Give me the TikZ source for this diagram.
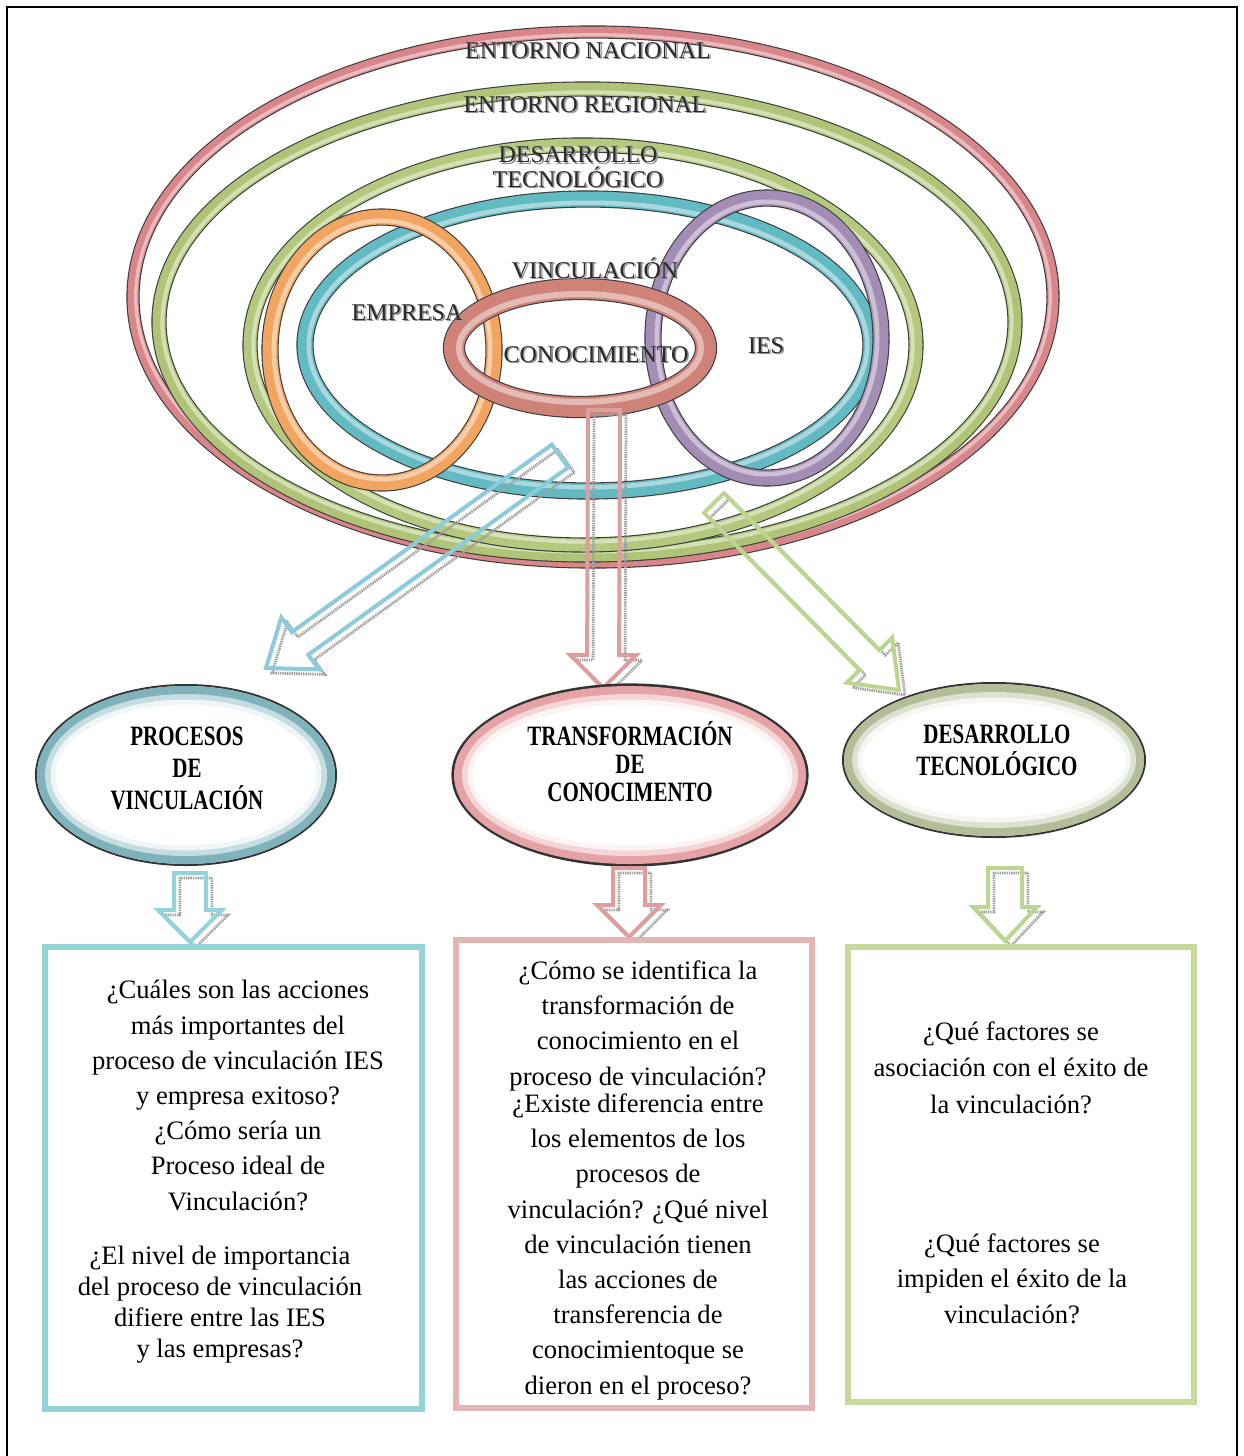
\documentclass[tikz,border=0pt]{standalone}
\usepackage{fontspec}
\usepackage{graphicx}
\setmainfont{Liberation Serif}
\usetikzlibrary{calc}

\definecolor{cNac}{HTML}{D9868B}
\definecolor{cReg}{HTML}{AFC476}
\definecolor{cDes}{HTML}{B4C97E}
\definecolor{cVin}{HTML}{62BAC3}
\definecolor{cEmp}{HTML}{F2A560}
\definecolor{cIes}{HTML}{A48DB5}
\definecolor{cCon}{HTML}{CF8278}
\definecolor{ringedge}{HTML}{3A3A3A}
\definecolor{embtext}{HTML}{2A2A2A}
\definecolor{embshadow}{HTML}{8F8F8F}
\definecolor{arrBlue}{HTML}{8CCBDC}
\definecolor{arrRed}{HTML}{DE9EA0}
\definecolor{arrGreen}{HTML}{BCD692}
\definecolor{ovBlue}{HTML}{7FB2BA}
\definecolor{ovRed}{HTML}{E6A3A6}
\definecolor{ovGreen}{HTML}{B3BD98}
\definecolor{boxBlue}{HTML}{93D4D9}
\definecolor{boxRed}{HTML}{E3B5B5}
\definecolor{boxGreen}{HTML}{C5D99B}

% embossed caption: dark letters over a grey drop shadow
\newcommand\emb[1]{\leavevmode\rlap{\kern0.8pt\raisebox{-0.8pt}{\textcolor{embshadow}{#1}}}\textcolor{embtext}{#1}}
% condensed bold caption line
\newcommand\sq[1]{\scalebox{0.75}[1]{#1}}

% tube-like ring: centre x, centre y, x radius, y radius, band (pt), colour
\newcommand\ring[6]{%
  \draw[line width=#5pt+1.1pt, ringedge] (#1,#2) ellipse [x radius=#3, y radius=#4];
  \draw[line width=#5pt, #6] (#1,#2) ellipse [x radius=#3, y radius=#4];
  \draw[line width=0.3*#5pt, #6!55!white] (#1,#2) ellipse [x radius={#3-0.5*#5}, y radius={#4-0.5*#5}];
}

% shaded oval: centre x, centre y, x radius, y radius, colour, edge width
\newcommand\shadedoval[6]{%
  \draw[line width=#6, black!80] (#1,#2) ellipse [x radius=#3, y radius=#4];
  \draw[line width=4.5pt, #5] (#1,#2) ellipse [x radius={#3-5.5}, y radius={#4-5.5}];
  \draw[line width=3pt, #5!45!white] (#1,#2) ellipse [x radius={#3-12}, y radius={#4-12}];
  \draw[line width=2.5pt, #5!12!white] (#1,#2) ellipse [x radius={#3-17}, y radius={#4-17}];
}

% hollow block arrow with a hatched shadow:
% colour, tail, tip, half shaft width, half head width, head length
\newcommand\blockarrow[6]{%
  \coordinate (ba-b) at ($(#3)!#6!(#2)$);
  \coordinate (ba1) at ($(#2)!#4!90:(#3)$);
  \coordinate (ba2) at ($(ba-b)!#4!90:(#3)$);
  \coordinate (ba3) at ($(ba-b)!#5!90:(#3)$);
  \coordinate (ba5) at ($(ba-b)!#5!-90:(#3)$);
  \coordinate (ba6) at ($(ba-b)!#4!-90:(#3)$);
  \coordinate (ba7) at ($(#2)!#4!-90:(#3)$);
  \draw[shadowline] ($(ba1)+(6,5)$) -- ($(ba2)+(6,5)$) -- ($(ba3)+(6,5)$) -- ($(#3)+(6,5)$)
     -- ($(ba5)+(6,5)$) -- ($(ba6)+(6,5)$) -- ($(ba7)+(6,5)$) -- cycle;
  \draw[line width=2pt, #1, line join=miter] (ba1) -- (ba2) -- (ba3) -- (#3) -- (ba5) -- (ba6) -- (ba7) -- cycle;
}

\begin{document}
\begin{tikzpicture}[x=0.5pt, y=-0.5pt,
  shadowline/.style={draw=gray!75, line width=1.4pt, dash pattern=on 0.7pt off 0.45pt, line join=miter},
  ringlabel/.style={font=\fontsize{12}{10.5}\selectfont, align=center, inner sep=0pt, anchor=base},
  ovallabel/.style={font=\fontsize{14}{16}\selectfont\bfseries, align=center, inner sep=0pt, anchor=base},
  qbox/.style={draw, line width=3pt, inner sep=0pt},
  qtext/.style={font=\fontsize{13.3}{17.6}\selectfont, align=center, inner sep=0pt, anchor=base}]

\useasboundingbox (0,0) rectangle (1243,1456);
\fill[white] (0,0) rectangle (1243,1456);

% page frame, open at the bottom
\draw[line width=1.2pt] (7,1456) -- (7,7) -- (1237,7) -- (1237,1456);

% ---- nested context rings ----
\ring{593}{297}{460}{265}{5.5}{cNac}
\ring{587}{322}{428}{233}{6.5}{cReg}
\ring{583}{345}{333}{200}{6.5}{cDes}
\ring{588}{345}{283}{146}{7.5}{cVin}
\ring{382}{350}{112}{133}{7.5}{cEmp}
\ring{767}{338}{114}{140}{7.5}{cIes}
\ring{580}{348}{126}{59}{10}{cCon}

% ---- ring captions (anchored on the last baseline) ----
\node[ringlabel] (lNac) at (588,58) {\emb{ENTORNO NACIONAL}};
\node[ringlabel] (lReg) at (585,112) {\emb{ENTORNO REGIONAL}};
\node[ringlabel] (lDes) at (578,187) {\emb{DESARROLLO}\\\emb{TECNOLÓGICO}};
\node[ringlabel] (lVin) at (595,278) {\emb{VINCULACIÓN}};
\node[ringlabel] (lEmp) at (407,320) {\emb{EMPRESA}};
\node[ringlabel] (lCon) at (596,362) {\emb{CONOCIMIENTO}};
\node[ringlabel] (lIes) at (766,353) {\emb{IES}};

% ---- arrow end points ----
\coordinate (aV-tail) at (560,456);
\coordinate (aV-tip) at (266,668);
\coordinate (aT-tail) at (604,410);
\coordinate (aT-tip) at (603,688);
\coordinate (aD-tail) at (714,503);
\coordinate (aD-tip) at (899,690);
\coordinate (sV-tail) at (190,873);
\coordinate (sV-tip) at (190,942);
\coordinate (sT-tail) at (629,868);
\coordinate (sT-tip) at (629,937);
\coordinate (sD-tail) at (1005,868);
\coordinate (sD-tip) at (1005,941);

\blockarrow{arrBlue}{aV-tail}{aV-tip}{7pt}{16pt}{21pt}
\blockarrow{arrRed}{aT-tail}{aT-tip}{8pt}{16.5pt}{16.5pt}
\blockarrow{arrGreen}{aD-tail}{aD-tip}{7pt}{16pt}{21pt}

% ---- three outcome ovals ----
\shadedoval{186}{775}{150}{90}{ovBlue}{1pt}
\shadedoval{630}{775}{177}{90}{ovRed}{1.6pt}
\shadedoval{994}{760}{151}{77}{ovGreen}{1pt}

\node[ovallabel] (oV) at (187,809) {\sq{PROCESOS}\\\sq{DE}\\\sq{VINCULACIÓN}};
\node[ovallabel, font=\fontsize{14}{14}\selectfont\bfseries] (oT) at (630,801) {\sq{TRANSFORMACIÓN}\\\sq{DE}\\\sq{CONOCIMENTO}};
\node[ovallabel] (oD) at (997,775) {\sq{DESARROLLO}\\\sq{TECNOLÓGICO}};

\blockarrow{boxBlue}{sV-tail}{sV-tip}{8pt}{16pt}{16pt}
\blockarrow{arrRed}{sT-tail}{sT-tip}{8pt}{16pt}{16pt}
\blockarrow{arrGreen}{sD-tail}{sD-tip}{8.5pt}{16pt}{17pt}

% ---- question boxes ----
\node[qbox, draw=boxBlue, minimum width=188.5pt, minimum height=231pt] (bV) at (233.5,1178) {};
\node[qbox, draw=boxRed, minimum width=178pt, minimum height=234pt] (bT) at (634,1174) {};
\node[qbox, draw=boxGreen, minimum width=173pt, minimum height=227.5pt] (bD) at (1021,1174.5) {};

\node[qtext] (qV1) at (238,1210) {¿Cuáles son las acciones\\más importantes del\\proceso de vinculación IES\\y empresa exitoso?\\¿Cómo sería un\\Proceso ideal de\\Vinculación?};
\node[qtext, font=\fontsize{13.3}{15.35}\selectfont] (qV2) at (220,1357) {¿El nivel de importancia\\del proceso de vinculación\\difiere entre las IES\\y las empresas?};

\node[qtext] (qT1) at (638,1085) {¿Cómo se identifica la\\transformación de\\conocimiento en el\\proceso de vinculación?};
\node[qtext] (qT2) at (638,1394) {¿Existe diferencia entre\\los elementos de los\\procesos de\\vinculación? ¿Qué nivel\\de vinculación tienen\\las acciones de\\transferencia de\\conocimientoque se\\dieron en el proceso?};

\node[qtext, font=\fontsize{13.3}{18.25}\selectfont] (qD1) at (1011,1113) {¿Qué factores se\\asociación con el éxito de\\la vinculación?};
\node[qtext, font=\fontsize{13.3}{17.75}\selectfont] (qD2) at (1012,1323) {¿Qué factores se\\impiden el éxito de la\\vinculación?};

\end{tikzpicture}
\end{document}
